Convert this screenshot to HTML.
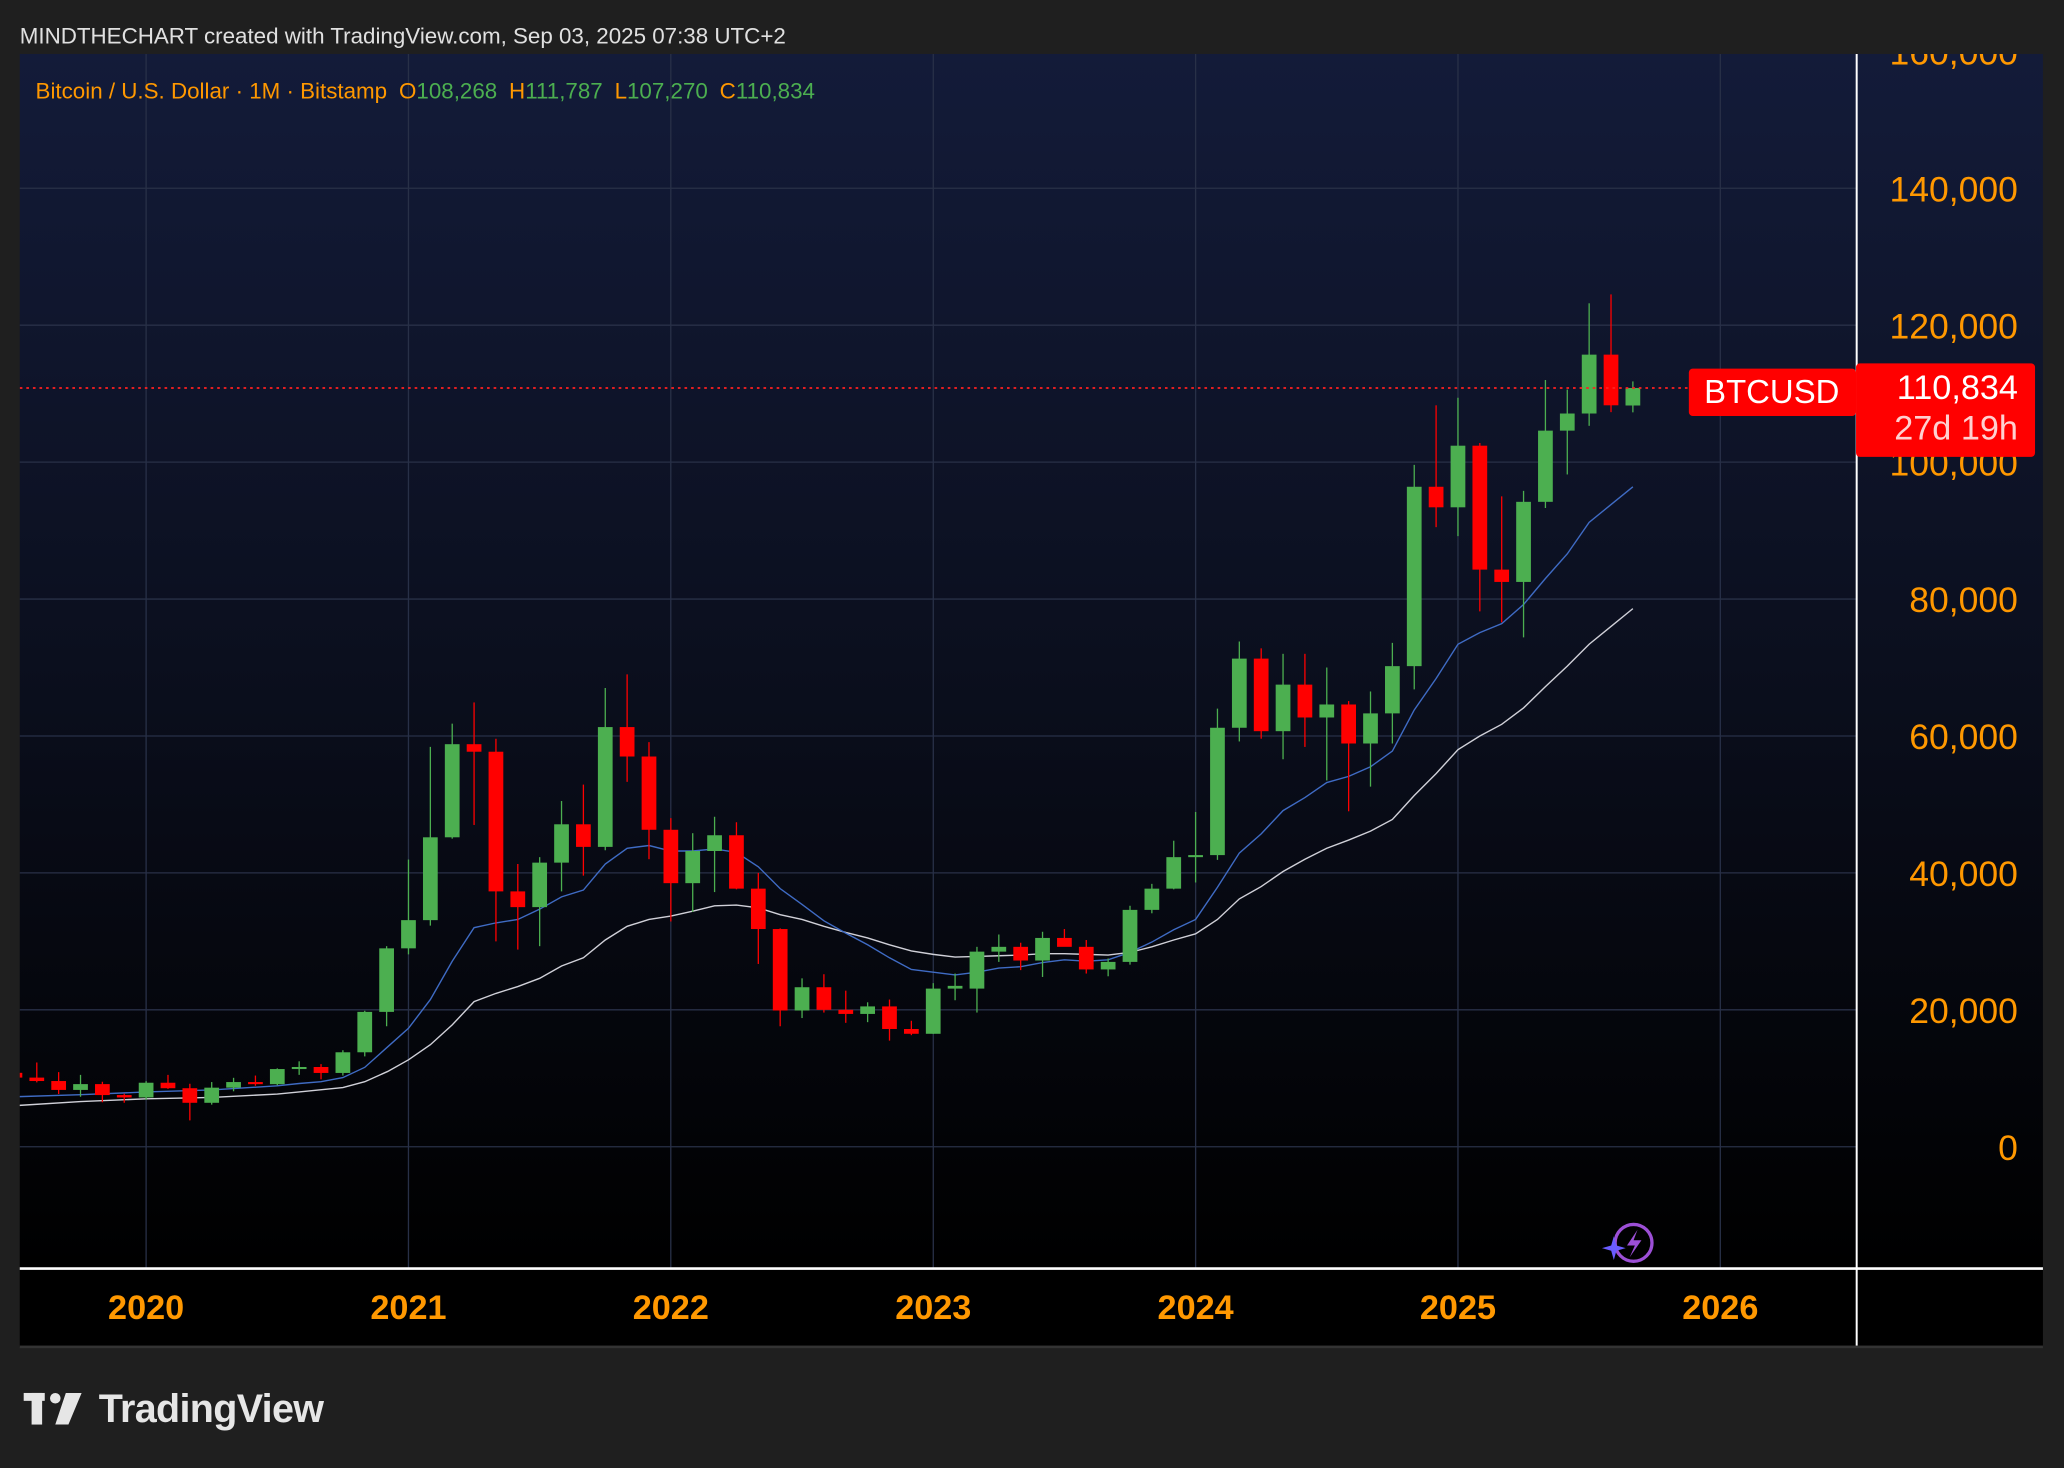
<!DOCTYPE html>
<html><head><meta charset="utf-8"><style>
html,body{margin:0;padding:0;background:#1f1f1f;}
svg{display:block;}
text{font-family:"Liberation Sans",sans-serif;}
</style></head><body>
<svg width="2064" height="1468" viewBox="0 0 1568 1115" preserveAspectRatio="none" xmlns="http://www.w3.org/2000/svg">
<defs>
<linearGradient id="bg" x1="0" y1="0" x2="0" y2="1">
<stop offset="0" stop-color="#131b39"/><stop offset="0.5" stop-color="#0b0f1e"/><stop offset="1" stop-color="#000"/>
</linearGradient>
<clipPath id="cp"><rect x="15" y="41" width="1395" height="922"/></clipPath>
<clipPath id="cpa"><rect x="1410" y="41" width="142" height="922"/></clipPath>
</defs>
<rect width="1568" height="1115" fill="#1f1f1f"/>
<text x="15" y="33" font-size="17" fill="#e0e0e0">MINDTHECHART created with TradingView.com, Sep 03, 2025 07:38 UTC+2</text>
<rect x="15" y="41" width="1537" height="922" fill="url(#bg)"/>
<rect x="15" y="963" width="1537" height="60" fill="#000"/>
<g stroke="#283047" stroke-width="1">
<line x1="15" x2="1410" y1="871" y2="871"/><line x1="15" x2="1410" y1="767" y2="767"/><line x1="15" x2="1410" y1="663" y2="663"/><line x1="15" x2="1410" y1="559" y2="559"/><line x1="15" x2="1410" y1="455" y2="455"/><line x1="15" x2="1410" y1="351" y2="351"/><line x1="15" x2="1410" y1="247" y2="247"/><line x1="15" x2="1410" y1="143" y2="143"/>
<line y1="41" y2="963" x1="111" x2="111"/><line y1="41" y2="963" x1="310.3" x2="310.3"/><line y1="41" y2="963" x1="509.6" x2="509.6"/><line y1="41" y2="963" x1="709" x2="709"/><line y1="41" y2="963" x1="908.3" x2="908.3"/><line y1="41" y2="963" x1="1107.6" x2="1107.6"/><line y1="41" y2="963" x1="1306.9" x2="1306.9"/>
</g>
<g clip-path="url(#cp)">
<g transform="translate(11.34,871) scale(16.61,-5.2)">
<polyline fill="none" stroke="#d0d0d8" stroke-width="1.4" vector-effect="non-scaling-stroke" points="0,6.0 3,6.6 6,7.0 9,7.2 12,7.7 13,8.0 15,8.65 16,9.5 17.05,11.0 18,12.7 19,14.9 20,17.8 21,21.2 22,22.4 23,23.4 24,24.6 25,26.4 26,27.6 27,30.2 28,32.2 29,33.2 30,33.7 31,34.4 32,35.2 33,35.3 34,34.9 35,33.9 36,33.2 37,32.2 38,31.3 39,30.5 40,29.5 41,28.6 42,28.1 43,27.7 44,27.8 45,27.9 46,28.0 47,28.2 48,28.2 49,28.1 50,28.0 51,28.4 52,29.2 53,30.2 54,31.1 55,33.2 56,36.2 57,38.0 58,40.2 59,42.0 60,43.6 61,44.8 62,46.1 63,47.8 64,51.3 65,54.5 66,58.0 67,60.0 68,61.7 69,64.1 70,67.2 71,70.2 72,73.4 73,76.0 74,78.6"/>
<polyline fill="none" stroke="#3f6bc4" stroke-width="1.4" vector-effect="non-scaling-stroke" points="0,7.3 3,7.6 6,8.0 9,8.3 12,8.9 13,9.24 14,9.5 15,10.1 16,11.6 17.05,14.6 18,17.3 19,21.5 20,27.1 21,32.0 22,32.7 23,33.2 24,34.7 25,36.5 26,37.5 27,41.3 28,43.6 29,44.0 30,43.2 31,43.2 32,43.5 33,43.0 34,40.9 35,37.7 36,35.4 37,33.0 38,31.2 39,29.5 40,27.6 41,25.9 42,25.5 43,25.1 44,25.5 45,26.1 46,26.3 47,26.9 48,27.3 49,27.1 50,27.3 51,28.4 52,29.9 53,31.7 54,33.2 55,37.9 56,42.9 57,45.7 58,49.1 59,51.0 60,53.2 61,54.1 62,55.5 63,57.8 64,63.8 65,68.4 66,73.4 67,75.1 68,76.4 69,79.2 70,83.0 71,86.6 72,91.2 73,93.8 74,96.4"/>
<g stroke="#4caf50" fill="#4caf50" stroke-width="1.3">
<line vector-effect="non-scaling-stroke" x1="3" x2="3" y1="7.3" y2="10.5"/><rect stroke="none" x="2.663" width=".674" y="8.3" height=".85"/>
<line vector-effect="non-scaling-stroke" x1="6" x2="6" y1="6.85" y2="9.58"/><rect stroke="none" x="5.663" width=".674" y="7.2" height="2.15"/>
<line vector-effect="non-scaling-stroke" x1="9" x2="9" y1="6.15" y2="9.45"/><rect stroke="none" x="8.663" width=".674" y="6.42" height="2.21"/>
<line vector-effect="non-scaling-stroke" x1="10" x2="10" y1="8.1" y2="10.07"/><rect stroke="none" x="9.663" width=".674" y="8.63" height=".82"/>
<line vector-effect="non-scaling-stroke" x1="12" x2="12" y1="8.97" y2="11.45"/><rect stroke="none" x="11.663" width=".674" y="9.14" height="2.21"/>
<line vector-effect="non-scaling-stroke" x1="13" x2="13" y1="10.5" y2="12.48"/><rect stroke="none" x="12.663" width=".674" y="11.35" height=".3"/>
<line vector-effect="non-scaling-stroke" x1="15" x2="15" y1="10.4" y2="14.1"/><rect stroke="none" x="14.663" width=".674" y="10.78" height="3.02"/>
<line vector-effect="non-scaling-stroke" x1="16" x2="16" y1="13.2" y2="19.86"/><rect stroke="none" x="15.663" width=".674" y="13.8" height="5.9"/>
<line vector-effect="non-scaling-stroke" x1="17" x2="17" y1="17.6" y2="29.3"/><rect stroke="none" x="16.663" width=".674" y="19.7" height="9.28"/>
<line vector-effect="non-scaling-stroke" x1="18" x2="18" y1="28.1" y2="41.95"/><rect stroke="none" x="17.663" width=".674" y="28.98" height="4.12"/>
<line vector-effect="non-scaling-stroke" x1="19" x2="19" y1="32.3" y2="58.4"/><rect stroke="none" x="18.663" width=".674" y="33.1" height="12.1"/>
<line vector-effect="non-scaling-stroke" x1="20" x2="20" y1="45" y2="61.8"/><rect stroke="none" x="19.663" width=".674" y="45.2" height="13.6"/>
<line vector-effect="non-scaling-stroke" x1="24" x2="24" y1="29.3" y2="42.3"/><rect stroke="none" x="23.663" width=".674" y="35" height="6.5"/>
<line vector-effect="non-scaling-stroke" x1="25" x2="25" y1="37.3" y2="50.5"/><rect stroke="none" x="24.663" width=".674" y="41.5" height="5.6"/>
<line vector-effect="non-scaling-stroke" x1="27" x2="27" y1="43.3" y2="67"/><rect stroke="none" x="26.663" width=".674" y="43.8" height="17.5"/>
<line vector-effect="non-scaling-stroke" x1="31" x2="31" y1="34.3" y2="45.8"/><rect stroke="none" x="30.663" width=".674" y="38.5" height="4.7"/>
<line vector-effect="non-scaling-stroke" x1="32" x2="32" y1="37.2" y2="48.2"/><rect stroke="none" x="31.663" width=".674" y="43.2" height="2.3"/>
<line vector-effect="non-scaling-stroke" x1="36" x2="36" y1="18.8" y2="24.6"/><rect stroke="none" x="35.663" width=".674" y="19.9" height="3.4"/>
<line vector-effect="non-scaling-stroke" x1="39" x2="39" y1="18.2" y2="21.1"/><rect stroke="none" x="38.663" width=".674" y="19.4" height="1.1"/>
<line vector-effect="non-scaling-stroke" x1="42" x2="42" y1="16.5" y2="23.9"/><rect stroke="none" x="41.663" width=".674" y="16.5" height="6.6"/>
<line vector-effect="non-scaling-stroke" x1="43" x2="43" y1="21.4" y2="25.3"/><rect stroke="none" x="42.663" width=".674" y="23.1" height=".4"/>
<line vector-effect="non-scaling-stroke" x1="44" x2="44" y1="19.6" y2="29.2"/><rect stroke="none" x="43.663" width=".674" y="23.1" height="5.4"/>
<line vector-effect="non-scaling-stroke" x1="45" x2="45" y1="27" y2="31"/><rect stroke="none" x="44.663" width=".674" y="28.5" height=".7"/>
<line vector-effect="non-scaling-stroke" x1="47" x2="47" y1="24.8" y2="31.4"/><rect stroke="none" x="46.663" width=".674" y="27.2" height="3.3"/>
<line vector-effect="non-scaling-stroke" x1="50" x2="50" y1="24.9" y2="27.5"/><rect stroke="none" x="49.663" width=".674" y="25.9" height="1.1"/>
<line vector-effect="non-scaling-stroke" x1="51" x2="51" y1="26.6" y2="35.2"/><rect stroke="none" x="50.663" width=".674" y="27" height="7.6"/>
<line vector-effect="non-scaling-stroke" x1="52" x2="52" y1="34.1" y2="38.4"/><rect stroke="none" x="51.663" width=".674" y="34.6" height="3.1"/>
<line vector-effect="non-scaling-stroke" x1="53" x2="53" y1="37.6" y2="44.7"/><rect stroke="none" x="52.663" width=".674" y="37.7" height="4.6"/>
<line vector-effect="non-scaling-stroke" x1="54" x2="54" y1="38.6" y2="48.9"/><rect stroke="none" x="53.663" width=".674" y="42.3" height=".3"/>
<line vector-effect="non-scaling-stroke" x1="55" x2="55" y1="41.9" y2="64"/><rect stroke="none" x="54.663" width=".674" y="42.6" height="18.6"/>
<line vector-effect="non-scaling-stroke" x1="56" x2="56" y1="59.2" y2="73.8"/><rect stroke="none" x="55.663" width=".674" y="61.2" height="10.1"/>
<line vector-effect="non-scaling-stroke" x1="58" x2="58" y1="56.6" y2="72"/><rect stroke="none" x="57.663" width=".674" y="60.7" height="6.8"/>
<line vector-effect="non-scaling-stroke" x1="60" x2="60" y1="53.5" y2="70"/><rect stroke="none" x="59.663" width=".674" y="62.7" height="1.9"/>
<line vector-effect="non-scaling-stroke" x1="62" x2="62" y1="52.6" y2="66.5"/><rect stroke="none" x="61.663" width=".674" y="58.9" height="4.4"/>
<line vector-effect="non-scaling-stroke" x1="63" x2="63" y1="58.9" y2="73.6"/><rect stroke="none" x="62.663" width=".674" y="63.3" height="6.9"/>
<line vector-effect="non-scaling-stroke" x1="64" x2="64" y1="66.8" y2="99.6"/><rect stroke="none" x="63.663" width=".674" y="70.2" height="26.2"/>
<line vector-effect="non-scaling-stroke" x1="66" x2="66" y1="89.2" y2="109.4"/><rect stroke="none" x="65.663" width=".674" y="93.4" height="9"/>
<line vector-effect="non-scaling-stroke" x1="69" x2="69" y1="74.4" y2="95.8"/><rect stroke="none" x="68.663" width=".674" y="82.5" height="11.7"/>
<line vector-effect="non-scaling-stroke" x1="70" x2="70" y1="93.3" y2="112"/><rect stroke="none" x="69.663" width=".674" y="94.2" height="10.4"/>
<line vector-effect="non-scaling-stroke" x1="71" x2="71" y1="98.2" y2="110.6"/><rect stroke="none" x="70.663" width=".674" y="104.6" height="2.5"/>
<line vector-effect="non-scaling-stroke" x1="72" x2="72" y1="105.3" y2="123.2"/><rect stroke="none" x="71.663" width=".674" y="107.1" height="8.6"/>
<line vector-effect="non-scaling-stroke" x1="74" x2="74" y1="107.27" y2="111.79"/><rect stroke="none" x="73.663" width=".674" y="108.27" height="2.56"/>
</g>
<g stroke="#ff0000" fill="#ff0000" stroke-width="1.3">
<line vector-effect="non-scaling-stroke" x1="0" x2="0" y1="9.1" y2="13.1"/><rect stroke="none" x="-.337" width=".674" y="10.1" height=".7"/>
<line vector-effect="non-scaling-stroke" x1="1" x2="1" y1="9.4" y2="12.3"/><rect stroke="none" x=".663" width=".674" y="9.6" height=".5"/>
<line vector-effect="non-scaling-stroke" x1="2" x2="2" y1="7.7" y2="10.9"/><rect stroke="none" x="1.663" width=".674" y="8.3" height="1.3"/>
<line vector-effect="non-scaling-stroke" x1="4" x2="4" y1="6.5" y2="9.5"/><rect stroke="none" x="3.663" width=".674" y="7.55" height="1.6"/>
<line vector-effect="non-scaling-stroke" x1="5" x2="5" y1="6.43" y2="7.75"/><rect stroke="none" x="4.663" width=".674" y="7.2" height=".35"/>
<line vector-effect="non-scaling-stroke" x1="7" x2="7" y1="8.45" y2="10.5"/><rect stroke="none" x="6.663" width=".674" y="8.55" height=".8"/>
<line vector-effect="non-scaling-stroke" x1="8" x2="8" y1="3.85" y2="9.2"/><rect stroke="none" x="7.663" width=".674" y="6.42" height="2.13"/>
<line vector-effect="non-scaling-stroke" x1="11" x2="11" y1="8.9" y2="10.4"/><rect stroke="none" x="10.663" width=".674" y="9.14" height=".31"/>
<line vector-effect="non-scaling-stroke" x1="14" x2="14" y1="9.85" y2="12.07"/><rect stroke="none" x="13.663" width=".674" y="10.78" height=".87"/>
<line vector-effect="non-scaling-stroke" x1="21" x2="21" y1="47" y2="64.9"/><rect stroke="none" x="20.663" width=".674" y="57.7" height="1.1"/>
<line vector-effect="non-scaling-stroke" x1="22" x2="22" y1="30" y2="59.6"/><rect stroke="none" x="21.663" width=".674" y="37.3" height="20.4"/>
<line vector-effect="non-scaling-stroke" x1="23" x2="23" y1="28.8" y2="41.3"/><rect stroke="none" x="22.663" width=".674" y="35" height="2.3"/>
<line vector-effect="non-scaling-stroke" x1="26" x2="26" y1="39.6" y2="52.9"/><rect stroke="none" x="25.663" width=".674" y="43.8" height="3.3"/>
<line vector-effect="non-scaling-stroke" x1="28" x2="28" y1="53.3" y2="69"/><rect stroke="none" x="27.663" width=".674" y="57" height="4.3"/>
<line vector-effect="non-scaling-stroke" x1="29" x2="29" y1="42" y2="59.1"/><rect stroke="none" x="28.663" width=".674" y="46.3" height="10.7"/>
<line vector-effect="non-scaling-stroke" x1="30" x2="30" y1="32.9" y2="48"/><rect stroke="none" x="29.663" width=".674" y="38.5" height="7.8"/>
<line vector-effect="non-scaling-stroke" x1="33" x2="33" y1="37.6" y2="47.4"/><rect stroke="none" x="32.663" width=".674" y="37.7" height="7.8"/>
<line vector-effect="non-scaling-stroke" x1="34" x2="34" y1="26.7" y2="40"/><rect stroke="none" x="33.663" width=".674" y="31.8" height="5.9"/>
<line vector-effect="non-scaling-stroke" x1="35" x2="35" y1="17.6" y2="31.9"/><rect stroke="none" x="34.663" width=".674" y="19.9" height="11.9"/>
<line vector-effect="non-scaling-stroke" x1="37" x2="37" y1="19.6" y2="25.2"/><rect stroke="none" x="36.663" width=".674" y="20" height="3.3"/>
<line vector-effect="non-scaling-stroke" x1="38" x2="38" y1="18.1" y2="22.8"/><rect stroke="none" x="37.663" width=".674" y="19.4" height=".6"/>
<line vector-effect="non-scaling-stroke" x1="40" x2="40" y1="15.5" y2="21.5"/><rect stroke="none" x="39.663" width=".674" y="17.2" height="3.3"/>
<line vector-effect="non-scaling-stroke" x1="41" x2="41" y1="16.3" y2="18.4"/><rect stroke="none" x="40.663" width=".674" y="16.5" height=".7"/>
<line vector-effect="non-scaling-stroke" x1="46" x2="46" y1="25.8" y2="29.8"/><rect stroke="none" x="45.663" width=".674" y="27.2" height="2"/>
<line vector-effect="non-scaling-stroke" x1="48" x2="48" y1="29.5" y2="31.8"/><rect stroke="none" x="47.663" width=".674" y="29.2" height="1.3"/>
<line vector-effect="non-scaling-stroke" x1="49" x2="49" y1="25.3" y2="30.2"/><rect stroke="none" x="48.663" width=".674" y="25.9" height="3.3"/>
<line vector-effect="non-scaling-stroke" x1="57" x2="57" y1="59.6" y2="72.8"/><rect stroke="none" x="56.663" width=".674" y="60.7" height="10.6"/>
<line vector-effect="non-scaling-stroke" x1="59" x2="59" y1="58.4" y2="72"/><rect stroke="none" x="58.663" width=".674" y="62.7" height="4.8"/>
<line vector-effect="non-scaling-stroke" x1="61" x2="61" y1="49" y2="65.1"/><rect stroke="none" x="60.663" width=".674" y="58.9" height="5.7"/>
<line vector-effect="non-scaling-stroke" x1="65" x2="65" y1="90.5" y2="108.3"/><rect stroke="none" x="64.663" width=".674" y="93.4" height="3"/>
<line vector-effect="non-scaling-stroke" x1="67" x2="67" y1="78.2" y2="102.8"/><rect stroke="none" x="66.663" width=".674" y="84.3" height="18.1"/>
<line vector-effect="non-scaling-stroke" x1="68" x2="68" y1="76.6" y2="95"/><rect stroke="none" x="67.663" width=".674" y="82.5" height="1.8"/>
<line vector-effect="non-scaling-stroke" x1="73" x2="73" y1="107.3" y2="124.5"/><rect stroke="none" x="72.663" width=".674" y="108.3" height="7.4"/>
</g>
</g>
<line x1="15" x2="1283" y1="294.7" y2="294.7" stroke="#ff2020" stroke-width="1.3" stroke-dasharray="2 3"/>
</g>
<g clip-path="url(#cpa)" font-size="27" fill="#ff9800" text-anchor="end">
<text x="1533" y="881">0</text><text x="1533" y="777">20,000</text><text x="1533" y="673">40,000</text><text x="1533" y="569">60,000</text><text x="1533" y="465">80,000</text><text x="1533" y="361">100,000</text><text x="1533" y="257">120,000</text><text x="1533" y="153">140,000</text><text x="1533" y="49">160,000</text>
</g>
<line x1="15" y1="963.5" x2="1552" y2="963.5" stroke="#fff" stroke-width="2"/>
<line x1="1410.5" y1="41" x2="1410.5" y2="1023" stroke="#fff" stroke-width="1.5"/>
<rect x="15" y="1022" width="1537" height="2" fill="#333"/>
<g font-size="26" font-weight="bold" fill="#ff9800" text-anchor="middle">
<text x="111" y="1002">2020</text><text x="310.3" y="1002">2021</text><text x="509.6" y="1002">2022</text><text x="709" y="1002">2023</text><text x="908.3" y="1002">2024</text><text x="1107.6" y="1002">2025</text><text x="1306.9" y="1002">2026</text>
</g>
<text x="27" y="75" font-size="17"><tspan fill="#ff9800">Bitcoin / U.S. Dollar · 1M · Bitstamp</tspan><tspan dx="9" fill="#ff9800">O</tspan><tspan fill="#4caf50">108,268</tspan><tspan dx="9" fill="#ff9800">H</tspan><tspan fill="#4caf50">111,787</tspan><tspan dx="9" fill="#ff9800">L</tspan><tspan fill="#4caf50">107,270</tspan><tspan dx="9" fill="#ff9800">C</tspan><tspan fill="#4caf50">110,834</tspan></text>
<rect x="1283" y="280" width="127" height="36" rx="3" fill="#ff0000"/>
<text x="1346" y="306" font-size="25" fill="#fff" text-anchor="middle">BTCUSD</text>
<rect x="1410" y="276" width="136" height="71" rx="3" fill="#ff0000"/>
<text x="1533" y="303" font-size="26" fill="#fff" text-anchor="end">110,834</text>
<text x="1533" y="334" font-size="26" fill="#ffd0d0" text-anchor="end">27d 19h</text>
<circle cx="1241" cy="944" r="14" fill="none" stroke="#9c4fd6" stroke-width="2.5"/>
<path d="M1244 934 L1236 946 L1242 946 L1238 955 L1247 942 L1241 942 Z" fill="#9c4fd6"/>
<path d="M1226 939 L1228 946 L1235 948 L1228 950 L1226 957 L1224 950 L1217 948 L1224 946 Z" fill="#6a5cff"/>
<g fill="#e6e6e6">
<rect x="18" y="1058" width="16" height="6"/><rect x="24" y="1058" width="8" height="24"/>
<circle cx="42" cy="1062" r="4"/><path d="M50 1058 L62 1058 L52 1082 L42 1082 Z"/>
</g>
<text x="75" y="1080" font-size="30" font-weight="bold" fill="#e6e6e6" letter-spacing="-0.5">TradingView</text>
</svg>
</body></html>
